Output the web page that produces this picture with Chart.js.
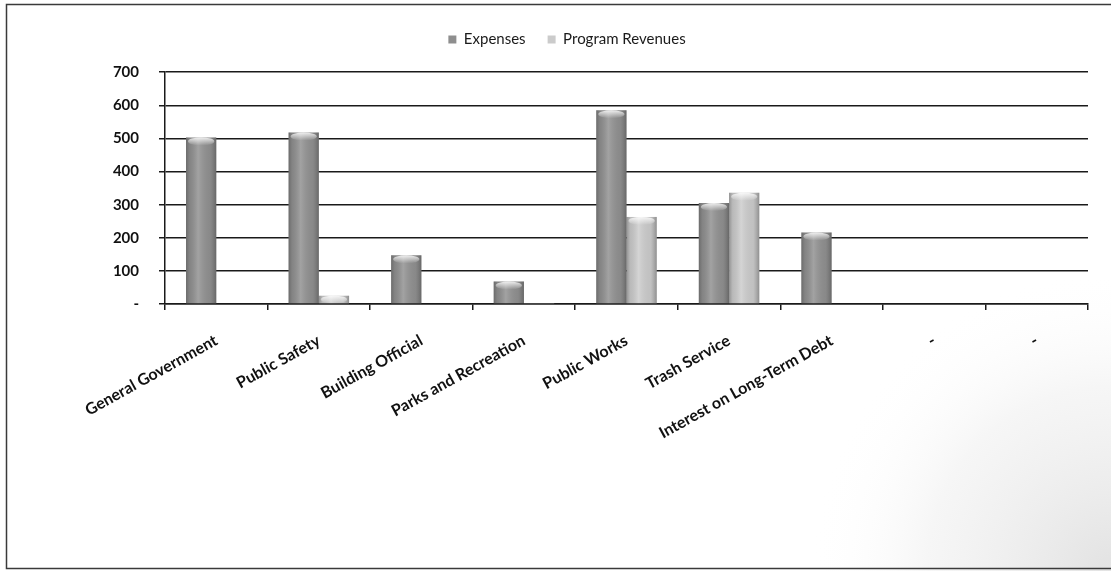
<!DOCTYPE html>
<html>
<head>
<meta charset="utf-8">
<script src="https://cdn.jsdelivr.net/npm/chart.js@4.4.1/dist/chart.umd.min.js"></script>
<style>
  html, body { margin: 0; padding: 0; background: #fff; }
  #wrap { position: relative; width: 1111px; height: 571px; }
  canvas { display: block; }
</style>
</head>
<body>
<div id="wrap"><canvas id="chart" width="1111" height="571"></canvas></div>
<script>
// Functions of government: expenses vs. program revenues (thousands)
const categories = [
  'General Government',
  'Public Safety',
  'Building Official',
  'Parks and Recreation',
  'Public Works',
  'Trash Service',
  'Interest on Long-Term Debt',
  '-',
  '-'
];
const expenses = [503, 518, 147, 68, 585, 305, 216, null, null];
const programRevenues = [null, 25, null, 3, 263, 336, null, null, null];
const yTicks = [0, 100, 200, 300, 400, 500, 600, 700];

const FONT = 'Lato, "Open Sans", "DejaVu Sans", sans-serif';

// Outer frame and a faint grainy wash in the lower right corner
const framePlugin = {
  id: 'frame',
  beforeDraw(chart) {
    const c = chart.ctx;
    c.save();
    c.fillStyle = '#ffffff';
    c.fillRect(0, 0, chart.width, chart.height);
    const g = c.createRadialGradient(1111, 571, 10, 1111, 571, 300);
    g.addColorStop(0, 'rgba(205,205,205,0.55)');
    g.addColorStop(0.6, 'rgba(225,225,225,0.3)');
    g.addColorStop(1, 'rgba(255,255,255,0)');
    c.fillStyle = g;
    c.fillRect(780, 280, 331, 291);
    c.strokeStyle = '#3a3a3a';
    c.lineWidth = 1.5;
    c.strokeRect(6.5, 4.5, 1130, 564);
    c.restore();
  }
};

// Cylinder-style shading laid over each bar
const shadePlugin = {
  id: 'shade',
  afterDatasetsDraw(chart) {
    const c = chart.ctx;
    chart.data.datasets.forEach((ds, di) => {
      const meta = chart.getDatasetMeta(di);
      meta.data.forEach((el, i) => {
        if (ds.data[i] == null) return;
        const p = el.getProps(['x', 'y', 'base', 'width'], true);
        const l = p.x - p.width / 2, r = p.x + p.width / 2;
        const top = Math.min(p.y, p.base), bot = Math.max(p.y, p.base);
        if (bot - top < 0.5) return;
        c.save();
        const g = c.createLinearGradient(l, 0, r, 0);
        g.addColorStop(0, 'rgba(40,40,40,0.35)');
        g.addColorStop(0.12, 'rgba(60,60,60,0.12)');
        g.addColorStop(0.4, 'rgba(255,255,255,0.18)');
        g.addColorStop(0.8, 'rgba(80,80,80,0.08)');
        g.addColorStop(1, 'rgba(30,30,30,0.35)');
        c.fillStyle = g;
        c.fillRect(l, top, r - l, bot - top);
        const capH = Math.min(8, (bot - top));
        const cg = c.createLinearGradient(0, top, 0, top + capH);
        cg.addColorStop(0, 'rgba(255,255,255,0.85)');
        cg.addColorStop(1, 'rgba(255,255,255,0)');
        c.fillStyle = cg;
        c.beginPath();
        c.ellipse(p.x, top + capH / 2, p.width / 2 - 2, capH / 2, 0, 0, Math.PI * 2);
        c.fill();
        c.restore();
      });
    });
  }
};

new Chart(document.getElementById('chart'), {
  type: 'bar',
  data: {
    labels: categories,
    datasets: [
      {
        label: 'Expenses',
        data: expenses,
        backgroundColor: '#8e8e8e',
        borderWidth: 0,
        categoryPercentage: 0.59,
        barPercentage: 1.0
      },
      {
        label: 'Program Revenues',
        data: programRevenues,
        backgroundColor: '#cbcbcb',
        borderWidth: 0,
        categoryPercentage: 0.59,
        barPercentage: 1.0
      }
    ]
  },
  plugins: [framePlugin, shadePlugin],
  options: {
    responsive: false,
    animation: false,
    layout: { padding: { top: 10, right: 23, bottom: 0, left: 46 } },
    plugins: {
      legend: {
        position: 'top',
        align: 'center',
        weight: 1000,
        labels: {
          color: '#1a1a1a',
          font: { family: FONT, size: 15 },
          boxWidth: 8,
          boxHeight: 8,
          padding: 22
        }
      },
      // empty spacer band between the legend and the plot
      title: {
        display: true,
        text: '',
        position: 'top',
        weight: 500,
        font: { size: 1 },
        padding: { top: 0, bottom: 14 }
      },
      tooltip: { enabled: false }
    },
    scales: {
      x: {
        offset: true,
        afterFit(s) { s.height = 267; },
        grid: {
          display: true,
          offset: true,
          drawOnChartArea: false,
          drawTicks: true,
          tickLength: 6,
          color: '#1a1a1a',
          lineWidth: 1.5
        },
        border: { display: true, color: '#1a1a1a', width: 1.5 },
        ticks: {
          color: '#111',
          font: { family: FONT, size: 16, weight: 'bold' },
          minRotation: 29,
          maxRotation: 29,
          autoSkip: false,
          padding: 21
        }
      },
      y: {
        min: 0,
        max: 700,
        afterFit(s) { s.width = 119; },
        afterBuildTicks(s) { s.ticks = yTicks.map(v => ({ value: v })); },
        grid: {
          color: '#1a1a1a',
          lineWidth: 1.5,
          tickLength: 6
        },
        border: { display: true, color: '#1a1a1a', width: 1.5 },
        ticks: {
          color: '#111',
          font: { family: FONT, size: 15, weight: 'bold' },
          padding: 20,
          callback: v => (v === 0 ? '-' : String(v))
        }
      }
    }
  }
});
</script>
</body>
</html>
